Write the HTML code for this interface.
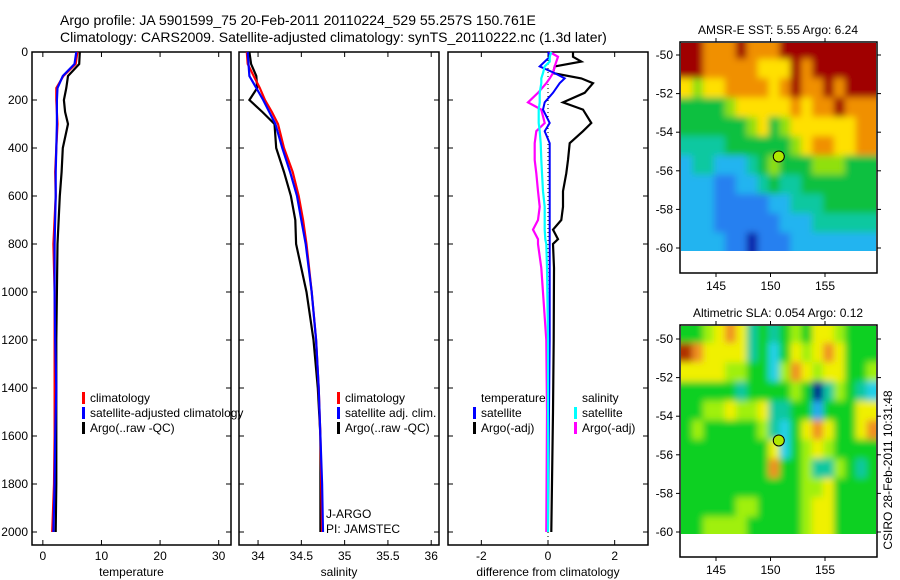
<!DOCTYPE html>
<html><head><meta charset="utf-8">
<style>
body{margin:0;background:#fff}
svg{display:block;font-family:"Liberation Sans",sans-serif}
text{font-size:12px;fill:#000}
</style></head>
<body>
<svg id="fig" width="900" height="580" viewBox="0 0 900 580" xmlns="http://www.w3.org/2000/svg">
<defs>
<filter id="blur" x="-5%" y="-5%" width="110%" height="110%"><feGaussianBlur stdDeviation="3.5"/></filter>
<clipPath id="clipA"><rect x="681" y="43" width="195" height="208"/></clipPath>
<clipPath id="clipB"><rect x="681" y="326" width="195" height="208"/></clipPath>
</defs>
<text x="60" y="25" style="font-size:14px">Argo profile: JA 5901599_75 20-Feb-2011 20110224_529 55.257S 150.761E</text>
<text x="60" y="42" style="font-size:14px">Climatology: CARS2009. Satellite-adjusted climatology: synTS_20110222.nc (1.3d later)</text>
</svg>
<script>
// ---- data ----
const tDepths=[0,50,100,150,200,250,300,400,500,600,800,1000,1200,1400,1600,1800,2000];
const tempClim=[5.9,5.6,3.5,2.3,2.3,2.4,2.5,2.3,2.1,2.2,1.8,2.0,2.0,2.0,2.0,1.9,1.6];
const tempSat=[5.7,5.4,3.4,2.5,2.4,2.4,2.4,2.3,2.2,2.2,2.0,2.0,2.1,2.3,2.1,2.0,1.8];
const tempArgo=[6.3,6.2,4.3,4.0,3.6,3.8,4.3,3.4,3.2,2.9,2.5,2.4,2.3,2.3,2.3,2.3,2.2];
const sDepths=[0,50,100,150,200,250,300,400,500,600,700,800,1000,1200,1400,1600,1800,2000];
const salClim=[33.87,33.88,33.95,34.02,34.08,34.16,34.23,34.3,34.4,34.47,34.52,34.56,34.62,34.67,34.70,34.72,34.73,34.74];
const salSat=[33.88,33.89,33.9,33.98,34.06,34.13,34.2,34.28,34.37,34.45,34.5,34.55,34.62,34.67,34.70,34.72,34.74,34.75];
const salArgo=[33.9,33.92,33.98,33.99,33.9,34.05,34.19,34.21,34.3,34.38,34.43,34.44,34.56,34.64,34.69,34.72,34.72,34.72];
const dDepths=[0,20,40,60,88,110,130,170,210,240,296,330,380,450,505,580,645,700,740,780,800,900,1200,1500,2000];
const tempArgoDiff=[0.75,0.75,1.0,0.2,0.15,1.0,1.35,1.1,0.45,1.05,1.3,1.05,0.65,0.6,0.55,0.45,0.45,0.4,0.15,0.3,0.15,0.18,0.17,0.15,0.1];
const tempSatDiff=[0,0.05,-0.1,-0.25,0.2,0.5,0.35,0.15,-0.1,-0.15,0.05,-0.1,0.05,0.05,0.05,0.05,0.05,0.05,0.05,0.05,0.05,0.05,0.05,0.03,0];
const salSatDiff=[0.1,0.05,0.05,-0.1,-0.15,-0.2,-0.2,-0.25,-0.25,-0.28,-0.28,-0.25,-0.22,-0.2,-0.18,-0.15,-0.1,-0.1,-0.1,-0.08,-0.05,-0.03,0,0,0];
const salArgoDiff=[0.05,0.3,0.25,0.2,0.15,0.05,-0.05,-0.3,-0.6,-0.2,-0.1,-0.35,-0.4,-0.4,-0.35,-0.3,-0.25,-0.3,-0.45,-0.3,-0.3,-0.2,-0.05,-0.03,-0.05];
const depthTicks=[0,200,400,600,800,1000,1200,1400,1600,1800,2000];
const tempTicks=[0,10,20,30];
const salTicks=[34,34.5,35,35.5,36];
const salTickLabels=["34","34.5","35","35.5","36"];
const diffTicks=[-2,0,2];
const lonTicks=[145,150,155];
const latTicks=[-50,-52,-54,-56,-58,-60];
const mapLons=[142,143,144,145,146,147,148,149,150,151,152,153,154,155,156,157,158,159];
const mapLats=[-49.7,-50.7,-51.7,-52.7,-53.7,-54.7,-55.7,-56.7,-57.7,-58.7,-59.7];
const sstGrid=[
"998889888999999999","998888877798999999","767788887898898999","555567777787889888",
"555555675677777788","444455555567887788","344333456555666555","333223345445555555",
"333222223344455555","333222222333444444","333322122233333333"];
const slaGrid=[
"556787454565776555","987777453576787555","777766553687677556","555554555565146543",
"556676674455255577","565555564357875578","555555557356765555","555555558556446545",
"555555555556675555","555556655556775555","556666555556775555"];
const palette=["#000080","#0a1ea8","#2880f0","#22b4f0","#10c8a0","#10c040","#90e010","#ffe000","#f09000","#a00000"];
const slaPalette=["#000080","#001890","#20a8f0","#20d0e8","#10c8a0","#10d020","#a0f010","#f0f000","#f09020","#b03000"];
// ---- drawing ----
const NS="http://www.w3.org/2000/svg";
const svg=document.getElementById('fig');
function el(tag,attrs,parent){const e=document.createElementNS(NS,tag);for(const k in attrs)e.setAttribute(k,attrs[k]);(parent||svg).appendChild(e);return e;}
const yTop=52, yPerM=0.24, axBottom=545;
const yD=d=>yTop+d*yPerM;
const panels=[
 {x0:32,x1:231,min:-1.85,max:32.1,name:'temperature-panel'},
 {x0:239,x1:439,min:33.78,max:36.09,name:'salinity-panel'},
 {x0:448,x1:648,min:-3,max:3,name:'difference-panel'}];
function xs(p,v){return p.x0+(v-p.min)/(p.max-p.min)*(p.x1-p.x0);}
function axesBox(p,ticks,labels,xlabel,showDepth){
 const g=el('g',{});
 
 
 const r=el('rect',{x:p.x0,y:yTop,width:p.x1-p.x0,height:axBottom-yTop,fill:'none',stroke:'#000','stroke-width':1.5},g);
 
 
 ticks.forEach((t,i)=>{const x=xs(p,t);
  el('line',{x1:x,x2:x,y1:axBottom,y2:axBottom-5,stroke:'#000'},g);
  el('line',{x1:x,x2:x,y1:yTop,y2:yTop+5,stroke:'#000'},g);
  const tx=el('text',{x:x,y:axBottom+15,'text-anchor':'middle'},g);tx.textContent=labels[i];
  
  });
 depthTicks.forEach(d=>{const y=yD(d);
  el('line',{x1:p.x0,x2:p.x0+5,y1:y,y2:y,stroke:'#000'},g);
  el('line',{x1:p.x1,x2:p.x1-5,y1:y,y2:y,stroke:'#000'},g);
  if(showDepth){const tx=el('text',{x:p.x0-4,y:y+4,'text-anchor':'end'},g);tx.textContent=d;
   
   }});
 const xl=el('text',{x:(p.x0+p.x1)/2,y:576,'text-anchor':'middle'},g);xl.textContent=xlabel;
 
 
}
function line(p,vals,depths,color,w,name){
 const pts=vals.map((v,i)=>xs(p,v).toFixed(1)+','+yD(depths[i]).toFixed(1)).join(' ');
 const pl=el('polyline',{points:pts,fill:'none',stroke:color,'stroke-width':w});
 
 
}
function legend(x,y,items){
 items.forEach((it,i)=>{const yy=y+i*15;
  if(it[1]){const r=el('rect',{x:x,y:yy-10,width:3,height:12,fill:it[1]});
   
   }
  const t=el('text',{x:x+8,y:yy});t.textContent=it[0];
  
  });
}
const [P1,P2,P3]=panels;
axesBox(P1,tempTicks,tempTicks.map(String),'temperature',true);
axesBox(P2,salTicks,salTickLabels,'salinity',false);
axesBox(P3,diffTicks,diffTicks.map(String),'difference from climatology',false);
line(P1,tempArgo,tDepths,'#000',2.2,'temp-argo-line');
line(P1,tempClim,tDepths,'#f00',2.2,'temp-climatology-line');
line(P1,tempSat,tDepths,'#00f',2.2,'temp-satellite-line');
line(P2,salArgo,sDepths,'#000',2.2,'sal-argo-line');
line(P2,salClim,sDepths,'#f00',2.2,'sal-climatology-line');
line(P2,salSat,sDepths,'#00f',2.2,'sal-satellite-line');
const zl=el('line',{x1:xs(P3,0),x2:xs(P3,0),y1:yTop,y2:axBottom,stroke:'#000','stroke-dasharray':'1,3'});


line(P3,tempArgoDiff,dDepths,'#000',2.2,'temp-argo-diff-line');
line(P3,salArgoDiff,dDepths,'#f0f',2.2,'sal-argo-diff-line');
line(P3,tempSatDiff,dDepths,'#00f',2,'temp-sat-diff-line');
line(P3,salSatDiff,dDepths,'#0ff',2.2,'sal-sat-diff-line');
legend(82,402,[['climatology','#f00'],['satellite-adjusted climatology','#00f'],['Argo(..raw -QC)','#000']]);
legend(337,402,[['climatology','#f00'],['satellite adj. clim.','#00f'],['Argo(..raw -QC)','#000']]);
legend(473,402,[['temperature',null],['satellite','#00f'],['Argo(-adj)','#000']]);
legend(574,402,[['salinity',null],['satellite','#0ff'],['Argo(-adj)','#f0f']]);
[['J-ARGO',518],['PI: JAMSTEC',533]].forEach(a=>{const t=el('text',{x:326,y:a[1]});t.textContent=a[0];
 
 });
// maps
function drawMap(m){
 const g=el('g',{});
 
 
 const lonX=l=>716+(l-145)*10.9;
 const latY=l=>m.y50+(-50-l)*m.ppd;
 const cw=10.9, ch=m.ppd;
 const clipG=el('g',{'clip-path':'url(#'+m.clip+')'},g);
 const cells=el('g',{filter:'url(#blur)'},clipG);
 m.grid.forEach((row,ri)=>{[...row].forEach((c,ci)=>{
  const x=lonX(mapLons[ci])-2, y=latY(mapLats[ri])-ch/2;
  const ex=ci===0?-8:0, ey=ri===0?-8:0;
  const r=el('rect',{x:(x+ex).toFixed(1),y:(y+ey).toFixed(1),width:(cw+0.6-ex+(ci===17?8:0)).toFixed(1),height:(ch+0.6-ey+(ri===10?8:0)).toFixed(1),fill:m.pal[+c]},cells);
  
  });});
 const fr=el('rect',{x:680,y:m.top,width:197,height:m.bot-m.top,fill:'none',stroke:'#000','stroke-width':1.5},g);
 
 
 lonTicks.forEach(l=>{const x=lonX(l);
  el('line',{x1:x,x2:x,y1:m.top,y2:m.top-4,stroke:'#000'},g);
  el('line',{x1:x,x2:x,y1:m.bot,y2:m.bot+4,stroke:'#000'},g);
  const t=el('text',{x:x,y:m.bot+17,'text-anchor':'middle'},g);t.textContent=l;
  
  });
 latTicks.forEach(l=>{const y=latY(l);
  el('line',{x1:680,x2:676,y1:y,y2:y,stroke:'#000'},g);
  el('line',{x1:877,x2:881,y1:y,y2:y,stroke:'#000'},g);
  const t=el('text',{x:673,y:y+4,'text-anchor':'end'},g);t.textContent=l;
  
  });
 const c=el('circle',{cx:lonX(150.761),cy:latY(-55.257),r:5.5,fill:'#b0e800',stroke:'#000','stroke-width':1},g);
 
 
 const tt=el('text',{x:778,y:m.top-8,'text-anchor':'middle'},g);tt.textContent=m.title;
 
 
}
drawMap({name:'sst-map',clip:'clipA',grid:sstGrid,pal:palette,top:42,bot:273,y50:55,ppd:19.3,title:'AMSR-E SST: 5.55 Argo: 6.24'});
drawMap({name:'sla-map',clip:'clipB',grid:slaGrid,pal:slaPalette,top:325,bot:557,y50:339,ppd:19.3,title:'Altimetric SLA: 0.054 Argo: 0.12'});
const ts=el('text',{transform:'translate(892,470) rotate(-90)','text-anchor':'middle'});
ts.textContent='CSIRO 28-Feb-2011 10:31:48';


</script>
</body></html>
